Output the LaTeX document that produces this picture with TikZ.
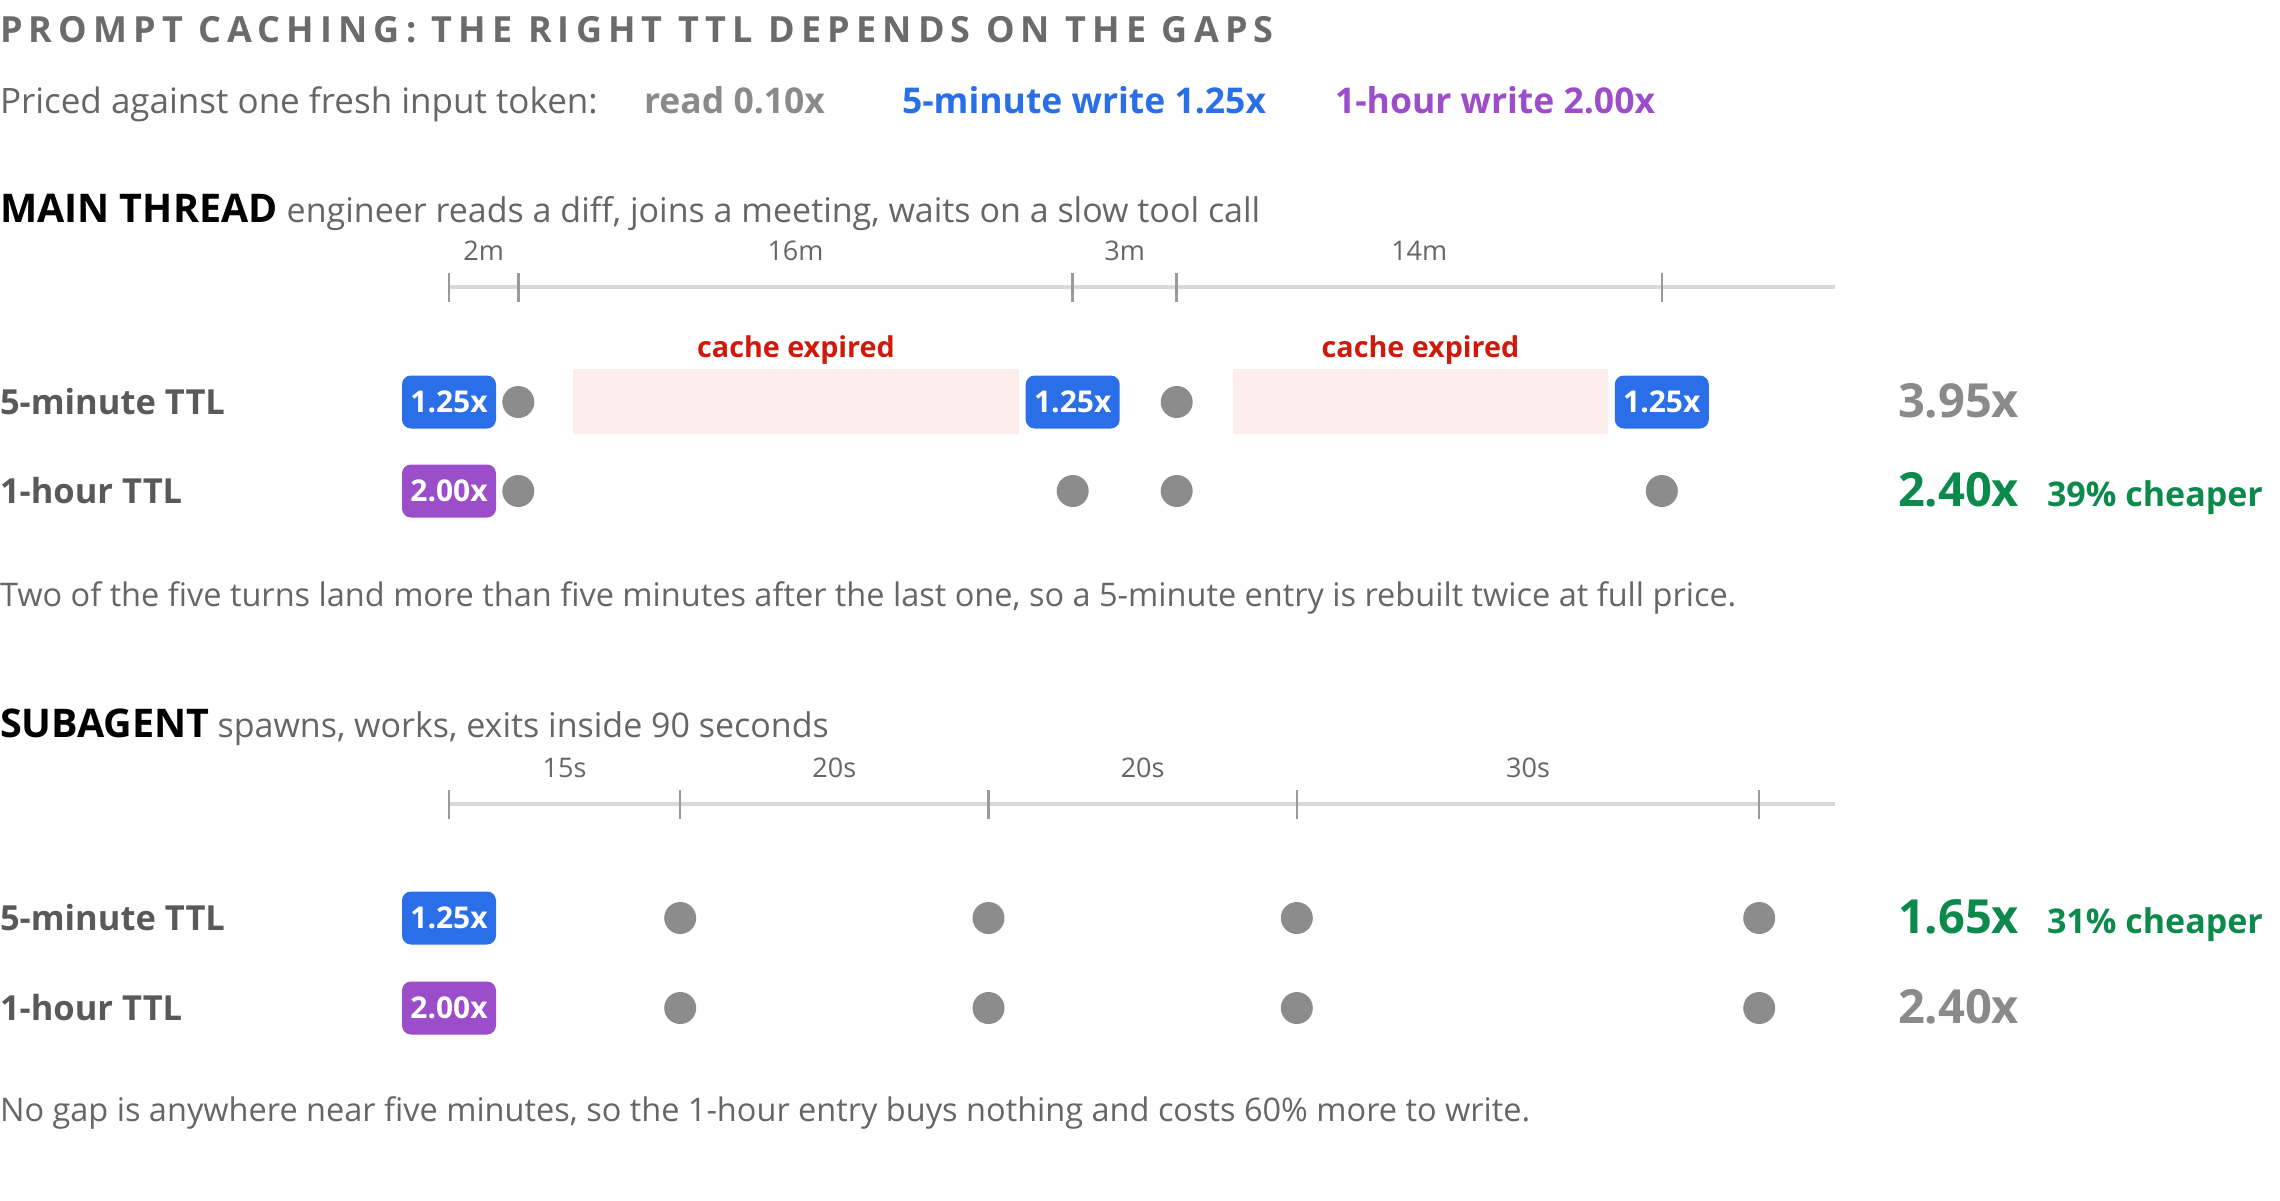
\documentclass[tikz,border=0pt]{standalone}
\usepackage{fontspec}
\setmainfont{Open Sans}
\usetikzlibrary{positioning}

\definecolor{inkgray}{HTML}{666666}
\definecolor{titlegray}{HTML}{6B6B6B}
\definecolor{rowgray}{HTML}{595959}
\definecolor{softgray}{HTML}{8A8A8A}
\definecolor{writeblue}{HTML}{2B6FE8}
\definecolor{writepurple}{HTML}{9B4DCA}
\definecolor{expiredred}{HTML}{D0190B}
\definecolor{expiredbg}{HTML}{FDEEEC}
\definecolor{okgreen}{HTML}{0B8A4B}
\definecolor{dotgray}{HTML}{8C8C8C}
\definecolor{axisgray}{HTML}{D9D9D9}
\definecolor{tickgray}{HTML}{9A9A9A}

\begin{document}
\begin{tikzpicture}[x=1pt,y=-1pt]
            \tikzstyle{every node} = [inner sep=0pt, outer sep=0pt]
            \tikzstyle{title} = [anchor=base west, text=titlegray, font=\fontsize{36}{42}\selectfont\bfseries\addfontfeatures{LetterSpace=17}]
            \tikzstyle{txt} = [anchor=base west, text=inkgray, font=\fontsize{34}{41}\selectfont]
            \tikzstyle{foot} = [anchor=base west, text=inkgray, font=\fontsize{32.5}{39}\selectfont]
            \tikzstyle{strong} = [anchor=base west, font=\fontsize{35.5}{42}\selectfont\bfseries]
            \tikzstyle{hd} = [anchor=base west, text=black, font=\fontsize{39.5}{46}\selectfont\bfseries]
            \tikzstyle{rowlab} = [anchor=base west, text=rowgray, font=\fontsize{34.5}{41}\selectfont\bfseries]
            \tikzstyle{gaplab} = [anchor=base, text=inkgray, font=\fontsize{27}{32}\selectfont, yshift=27pt]
            \tikzstyle{timeline} = [draw=axisgray, line width=4pt]
            \tikzstyle{tk} = [draw=tickgray, line width=2.5pt]
            \tikzstyle{badge} = [rounded corners=9pt, minimum width=94pt, minimum height=53pt, text=white, font=\fontsize{30}{36}\selectfont\bfseries]
            \tikzstyle{visit} = [circle, fill=dotgray, minimum size=32pt]
            \tikzstyle{expired} = [fill=expiredbg, minimum height=65pt]
            \tikzstyle{redlab} = [anchor=base, text=expiredred, font=\fontsize{28.7}{34}\selectfont\bfseries]
            \tikzstyle{total} = [anchor=base west, font=\fontsize{47}{54}\selectfont\bfseries]
            \tikzstyle{saving} = [text=okgreen, font=\fontsize{34}{40}\selectfont\bfseries]

            \useasboundingbox[fill=white] (0,0) rectangle (2280,1200);

            % header
            \node[title](title) at (0,42){PROMPT CACHING: THE RIGHT TTL DEPENDS ON THE GAPS};
            \node[txt, font=\fontsize{35}{42}\selectfont](priced) at (0,113){Priced against one fresh input token:};
            \node[strong, text=softgray](read) at (644,113){read 0.10x};
            \node[strong, text=writeblue](w5) at (902,113){5-minute write 1.25x};
            \node[strong, text=writepurple](w1) at (1335,113){1-hour write 2.00x};

            % main thread
            \node[hd](mt) at (0,222){MAIN THREAD};
            \node[txt, base right=9pt of mt](mtnote){engineer reads a diff, joins a meeting, waits on a slow tool call};

            \coordinate (m0) at (449,287);
            \coordinate (m1) at (518.3,287);
            \coordinate (m2) at (1072.7,287);
            \coordinate (m3) at (1176.7,287);
            \coordinate (m4) at (1661.8,287);
            \coordinate (mend) at (1835,287);
            \draw[timeline] (m0) -- (mend);
            \draw[tk] ([yshift=14pt]m0) -- ([yshift=-15pt]m0);
            \draw[tk] ([yshift=14pt]m1) -- ([yshift=-15pt]m1);
            \draw[tk] ([yshift=14pt]m2) -- ([yshift=-15pt]m2);
            \draw[tk] ([yshift=14pt]m3) -- ([yshift=-15pt]m3);
            \draw[tk] ([yshift=14pt]m4) -- ([yshift=-15pt]m4);
            \path (m0) -- (m1) node[midway, gaplab](mg1){2m};
            \path (m1) -- (m2) node[midway, gaplab](mg2){16m};
            \path (m2) -- (m3) node[midway, gaplab](mg3){3m};
            \path (m3) -- (m4) node[midway, gaplab](mg4){14m};

            \node[expired, minimum width=446pt](exp1) at (796,401.5){};
            \node[expired, minimum width=375pt](exp2) at (1420.5,401.5){};
            \node[redlab](exp1lab) at (796,357){cache expired};
            \node[redlab](exp2lab) at (1420.5,357){cache expired};

            \coordinate (ra) at (0,402);
            \coordinate (rb) at (0,491);
            \node[rowlab](ralab) at (0,414){5-minute TTL};
            \node[rowlab](rblab) at (0,503){1-hour TTL};

            \node[badge, fill=writeblue](ba0) at (m0 |- ra){1.25x};
            \node[visit](da1) at (m1 |- ra){};
            \node[badge, fill=writeblue](ba2) at (m2 |- ra){1.25x};
            \node[visit](da3) at (m3 |- ra){};
            \node[badge, fill=writeblue](ba4) at (m4 |- ra){1.25x};

            \node[badge, fill=writepurple](bb0) at (m0 |- rb){2.00x};
            \node[visit](db1) at (m1 |- rb){};
            \node[visit](db2) at (m2 |- rb){};
            \node[visit](db3) at (m3 |- rb){};
            \node[visit](db4) at (m4 |- rb){};

            \node[total, text=softgray](tota) at (1898,417){3.95x};
            \node[total, text=okgreen](totb) at (1898,506){2.40x};
            \node[saving, base right=28pt of totb](saveb){39\% cheaper};

            \node[foot](mtfoot) at (0,606){Two of the five turns land more than five minutes after the last one, so a 5-minute entry is rebuilt twice at full price.};

            % subagent
            \node[hd](sa) at (0,737){SUBAGENT};
            \node[txt, base right=8pt of sa](sanote){spawns, works, exits inside 90 seconds};

            \coordinate (s0) at (449,804);
            \coordinate (s1) at (680.2,804);
            \coordinate (s2) at (988.5,804);
            \coordinate (s3) at (1296.8,804);
            \coordinate (s4) at (1759.2,804);
            \coordinate (send) at (1835,804);
            \draw[timeline] (s0) -- (send);
            \draw[tk] ([yshift=14pt]s0) -- ([yshift=-15pt]s0);
            \draw[tk] ([yshift=14pt]s1) -- ([yshift=-15pt]s1);
            \draw[tk] ([yshift=14pt]s2) -- ([yshift=-15pt]s2);
            \draw[tk] ([yshift=14pt]s3) -- ([yshift=-15pt]s3);
            \draw[tk] ([yshift=14pt]s4) -- ([yshift=-15pt]s4);
            \path (s0) -- (s1) node[midway, gaplab](sg1){15s};
            \path (s1) -- (s2) node[midway, gaplab](sg2){20s};
            \path (s2) -- (s3) node[midway, gaplab](sg3){20s};
            \path (s3) -- (s4) node[midway, gaplab](sg4){30s};

            \coordinate (rc) at (0,918);
            \coordinate (rd) at (0,1008);
            \node[rowlab](rclab) at (0,930){5-minute TTL};
            \node[rowlab](rdlab) at (0,1020){1-hour TTL};

            \node[badge, fill=writeblue](bc0) at (s0 |- rc){1.25x};
            \node[visit](dc1) at (s1 |- rc){};
            \node[visit](dc2) at (s2 |- rc){};
            \node[visit](dc3) at (s3 |- rc){};
            \node[visit](dc4) at (s4 |- rc){};

            \node[badge, fill=writepurple](bd0) at (s0 |- rd){2.00x};
            \node[visit](dd1) at (s1 |- rd){};
            \node[visit](dd2) at (s2 |- rd){};
            \node[visit](dd3) at (s3 |- rd){};
            \node[visit](dd4) at (s4 |- rd){};

            \node[total, text=okgreen](totc) at (1898,933){1.65x};
            \node[saving, base right=28pt of totc](savec){31\% cheaper};
            \node[total, text=softgray](totd) at (1898,1023){2.40x};

            \node[foot](safoot) at (0,1121){No gap is anywhere near five minutes, so the 1-hour entry buys nothing and costs 60\% more to write.};
\end{tikzpicture}
\end{document}
